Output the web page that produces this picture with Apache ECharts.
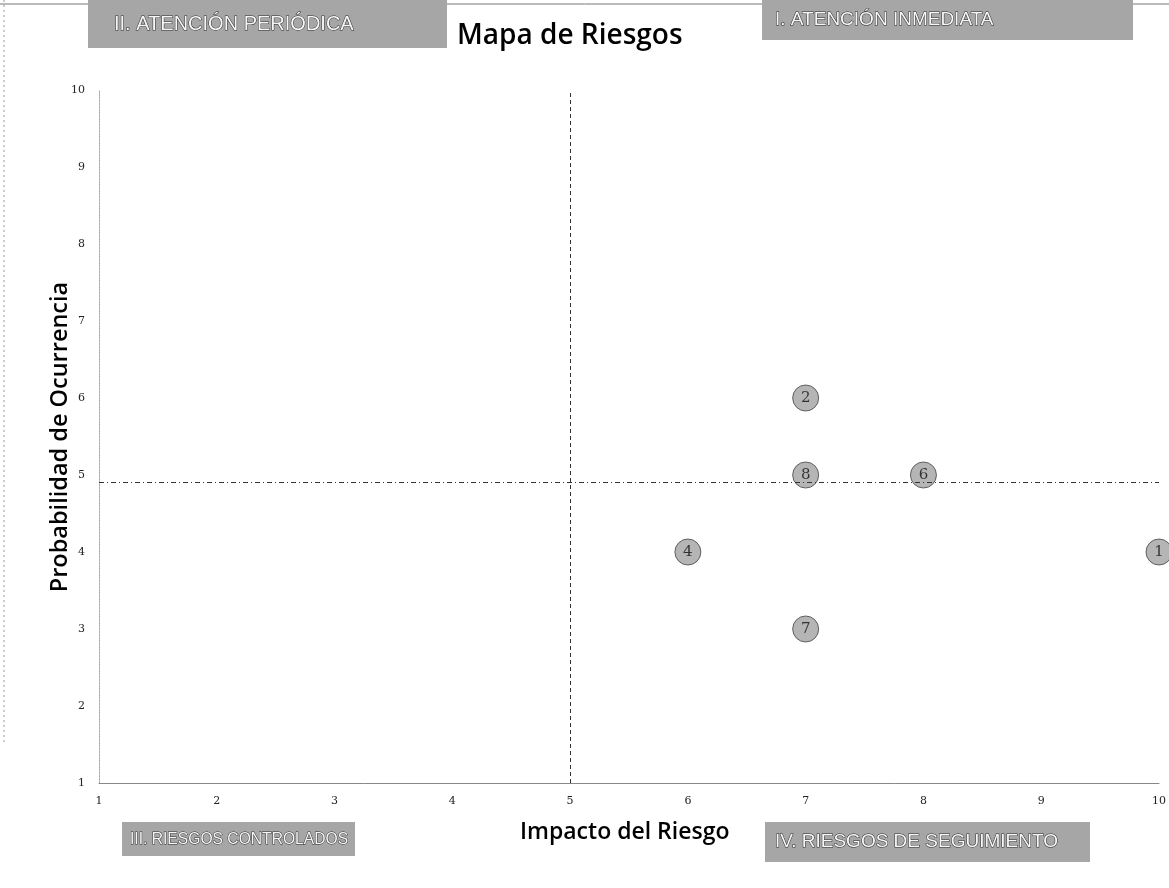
<!DOCTYPE html>
<html><head><meta charset="utf-8">
<script src="https://cdn.jsdelivr.net/npm/echarts@6/dist/echarts.min.js"></script>
<style>html,body{margin:0;padding:0;background:#fff}#c{width:1169px;height:888px}</style>
</head><body><div id="c"></div>
<script>
const riskIds = ['2', '8', '6', '4', '7', '1'];
const impact = [7, 7, 8, 6, 7, 10];
const probability = [6, 5, 5, 4, 3, 4];
const xTicks = [1, 2, 3, 4, 5, 6, 7, 8, 9, 10];
const yTicks = [1, 2, 3, 4, 5, 6, 7, 8, 9, 10];
const impactDivider = 5;
const probabilityDivider = 4.9;
const quadrantLabels = ['II. ATENCIÓN PERIÓDICA', 'I. ATENCIÓN INMEDIATA', 'III. RIESGOS CONTROLADOS', 'IV. RIESGOS DE SEGUIMIENTO'];

const chart = echarts.init(document.getElementById('c'));
const pts = impact.map((x, i) => ({ value: [x, probability[i]], name: riskIds[i] }));
function box(x, y, w, h, text, fs, tx, sx) {
  return {
    type: 'group', left: x, top: y,
    children: [
      { type: 'rect', shape: { x: 0, y: 0, width: w, height: h }, style: { fill: '#a6a6a6' } },
      { type: 'text', x: tx, y: h / 2, scaleX: sx, style: { text: text, fill: '#f6f6f6', stroke: '#2a2a2a', lineWidth: 1,
        font: fs + 'px "Liberation Sans", sans-serif', verticalAlign: 'middle' } }
    ]
  };
}
chart.setOption({
  animation: false,
  backgroundColor: '#fff',
  grid: { left: 99, right: 9, top: 90, bottom: 105 },
  xAxis: {
    type: 'value', min: 1, max: 10, interval: 1,
    axisLine: { show: true, lineStyle: { color: '#888', width: 1 } },
    axisTick: { show: false },
    splitLine: { show: false },
    axisLabel: { color: '#222', fontSize: 11, fontFamily: 'DejaVu Serif', margin: 13,
      formatter: v => xTicks.includes(v) ? String(v) : '' }
  },
  yAxis: {
    type: 'value', min: 1, max: 10, interval: 1,
    axisLine: { show: true, lineStyle: { color: '#aaa', width: 1, type: [2, 1] } },
    axisTick: { show: false },
    splitLine: { show: false },
    axisLabel: { color: '#222', fontSize: 11, fontFamily: 'DejaVu Serif', margin: 14,
      formatter: v => yTicks.includes(v) ? String(v) : '' }
  },
  series: [{
    type: 'scatter',
    data: pts,
    symbolSize: 26,
    clip: false,
    itemStyle: { color: '#a2a2a2', borderColor: '#444', borderWidth: 1 },
    label: { show: true, position: 'inside', formatter: p => p.name,
      color: '#111', fontSize: 15, fontFamily: 'DejaVu Serif' },
    markLine: {
      silent: true, symbol: 'none', label: { show: false },
      data: [
        { xAxis: impactDivider, lineStyle: { type: [4, 3], color: '#333', width: 1 } },
        { yAxis: probabilityDivider, lineStyle: { type: [5, 3, 1, 3], color: '#333', width: 1 } }
      ]
    }
  }],
  graphic: [
    { type: 'line', shape: { x1: 0, y1: 4, x2: 1169, y2: 4 }, style: { stroke: '#777', lineWidth: 1 } },
    { type: 'line', shape: { x1: 4, y1: 0, x2: 4, y2: 745 }, style: { stroke: '#999', lineWidth: 1, lineDash: [2, 3] } },
    box(88, 0, 359, 48, quadrantLabels[0], 20, 26, 1.0),
    box(762, 0, 371, 40, quadrantLabels[1], 19, 13, 1.0),
    box(122, 822, 233, 34, quadrantLabels[2], 17, 8, 0.92),
    box(765, 822, 325, 40, quadrantLabels[3], 19, 10, 1.0),
    { type: 'text', left: 457, top: 22, style: { text: 'Mapa de Riesgos', fill: '#000', font: '600 28px "Open Sans", sans-serif' } },
    { type: 'text', left: 520, top: 821, style: { text: 'Impacto del Riesgo', fill: '#000', font: '600 23px "Open Sans", sans-serif' } },
    { type: 'text', x: 60, y: 437, rotation: Math.PI / 2, style: { text: 'Probabilidad de Ocurrencia', fill: '#000', font: '600 23.5px "Open Sans", sans-serif', align: 'center', verticalAlign: 'middle' } }
  ]
});
</script>
</body></html>
